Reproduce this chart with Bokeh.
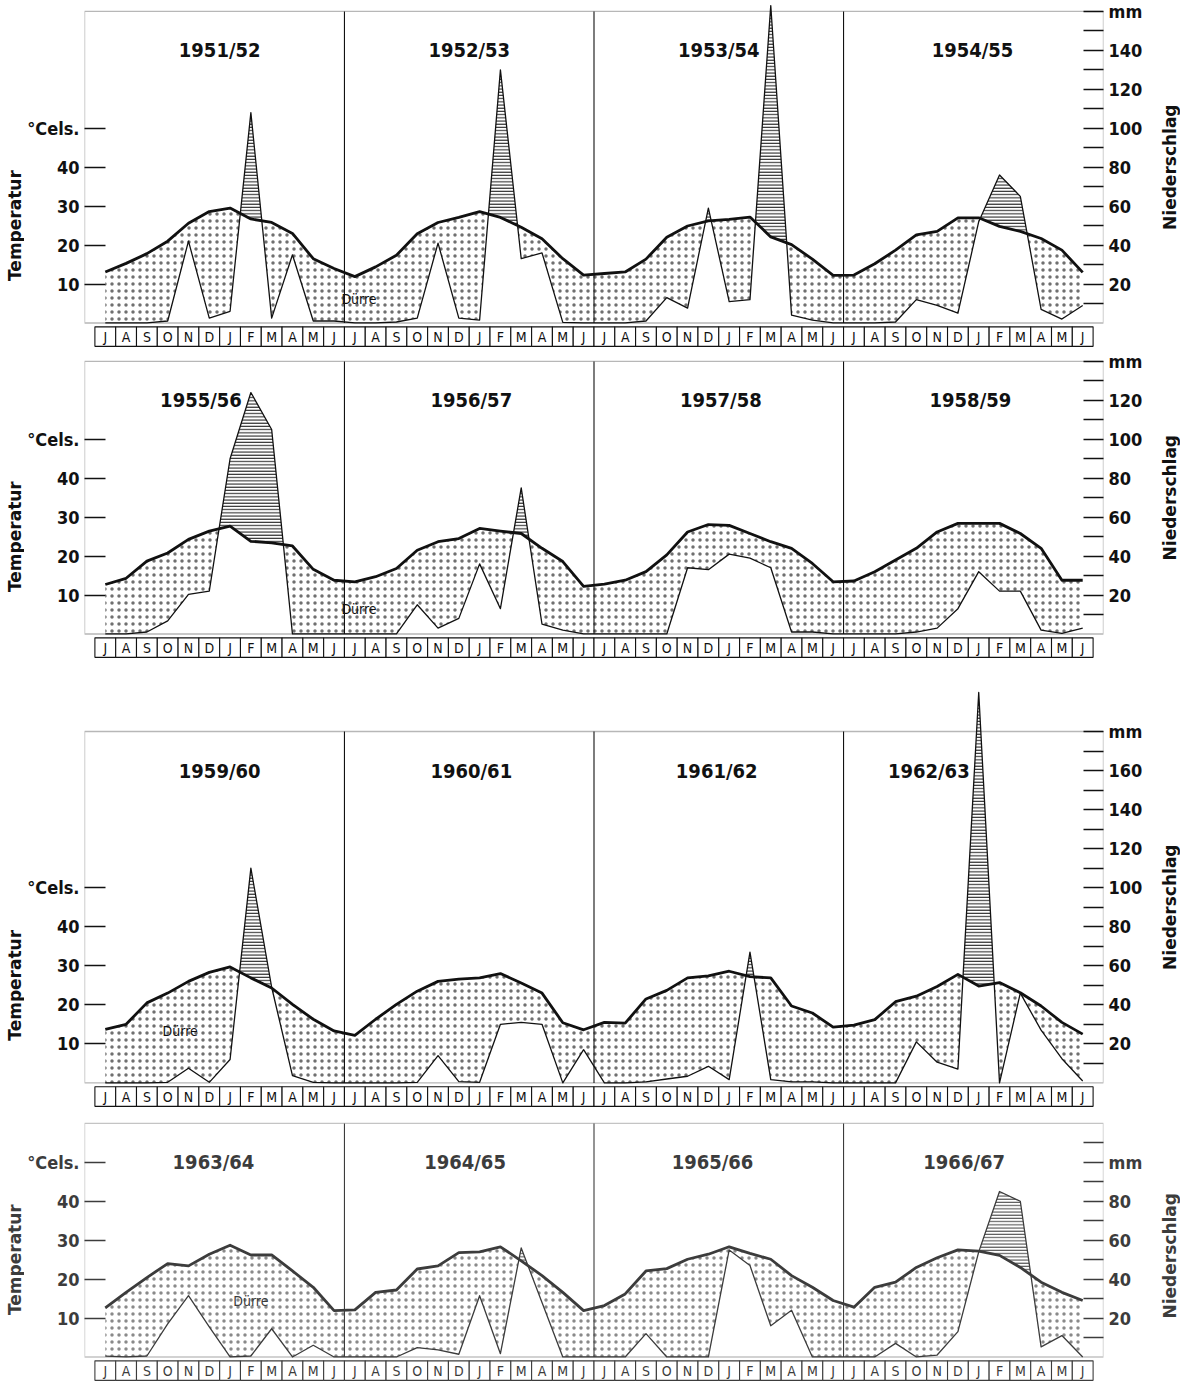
import math
import numpy as np
from bokeh.plotting import figure
from bokeh.models import Range1d, LinearAxis, FixedTicker, BoxAnnotation
from bokeh.layouts import column, row
from bokeh.embed import file_html
from bokeh.resources import INLINE
from bokeh.core.properties import value

# ---------------- data ----------------
MONTHS = ["J", "A", "S", "O", "N", "D", "J", "F", "M", "A", "M", "J"]

SEASONS_1 = ["1951/52", "1952/53", "1953/54", "1954/55"]
TEMP_1 = [13.1, 15.3, 17.8, 21.0, 25.6, 28.6, 29.5, 26.7, 25.8, 23.0, 16.5, 14.0,
          11.9, 14.4, 17.4, 22.9, 25.8, 27.1, 28.6, 27.1, 24.6, 21.6, 16.5, 12.3,
          12.7, 13.1, 16.4, 22.0, 24.9, 26.2, 26.6, 27.2, 22.1, 20.1, 16.4, 12.2,
          12.3, 15.2, 18.7, 22.6, 23.5, 27.0, 27.0, 24.8, 23.5, 21.7, 18.7, 13.0]
PREC_1 = [0, 0, 0, 1, 42, 2.5, 6, 108, 2.5, 35, 1, 1,
          0, 0, 0.5, 2.5, 41, 2.5, 1.5, 130, 33, 36, 0.3, 0,
          0, 0, 1, 13, 7.6, 59, 11, 12, 163, 4, 1.5, 0,
          0, 0, 0.5, 12, 9, 5, 52, 76, 65, 7, 2, 9]

SEASONS_2 = ["1955/56", "1956/57", "1957/58", "1958/59"]
TEMP_2 = [12.7, 14.3, 18.7, 20.8, 24.3, 26.4, 27.7, 23.8, 23.4, 22.6, 16.6, 13.8,
          13.4, 14.7, 16.8, 21.5, 23.7, 24.5, 27.1, 26.4, 25.8, 22.0, 18.6, 12.2,
          12.8, 13.8, 16.0, 20.3, 26.2, 28.1, 27.9, 25.8, 23.7, 22.0, 18.1, 13.4,
          13.6, 16.0, 19.0, 22.0, 26.2, 28.4, 28.4, 28.4, 25.8, 22.0, 13.8, 13.8]
PREC_2 = [0, 0, 1, 6.7, 20.3, 22, 90, 124, 105, 0, 0, 0,
          0, 0, 0, 15, 3, 8, 36, 13, 75, 5, 2, 0,
          0, 0, 0, 0, 34, 33, 41, 39, 34, 1, 1, 0,
          0, 0, 0, 1, 3, 13, 32, 22, 22, 2, 0.3, 3]

SEASONS_3 = ["1959/60", "1960/61", "1961/62", "1962/63"]
TEMP_3 = [13.7, 15.0, 20.5, 23.0, 26.0, 28.3, 29.7, 26.9, 24.3, 20.1, 16.3, 13.3,
          12.2, 16.3, 20.1, 23.5, 26.0, 26.6, 26.9, 28.0, 25.6, 23.0, 15.4, 13.6,
          15.5, 15.3, 21.5, 23.7, 26.9, 27.4, 28.6, 27.2, 26.9, 19.7, 17.9, 14.3,
          14.8, 16.2, 20.8, 22.2, 24.7, 27.8, 24.8, 25.7, 23.1, 19.7, 15.5, 12.5]
PREC_3 = [0, 0, 0, 0.3, 7.5, 0.3, 12, 110, 49, 3.7, 0.3, 0,
          0, 0, 0, 0.3, 14, 0.7, 0.3, 30, 31, 30, 0, 17,
          0, 0, 0.5, 2, 3.4, 8.5, 1.7, 67, 1.7, 0.5, 0.5, 0,
          0, 0, 0, 21, 10.6, 7.1, 200, 0, 46, 27, 12.4, 1]

SEASONS_4 = ["1963/64", "1964/65", "1965/66", "1966/67"]
TEMP_4 = [12.6, 16.6, 20.4, 24.0, 23.4, 26.4, 28.7, 26.2, 26.2, 22.1, 17.9, 11.9,
          12.1, 16.6, 17.2, 22.6, 23.4, 26.8, 27.0, 28.3, 24.7, 20.9, 16.6, 11.9,
          13.2, 16.2, 22.1, 22.7, 25.1, 26.4, 28.3, 26.6, 25.1, 20.9, 17.9, 14.5,
          12.8, 17.9, 19.2, 23.0, 25.5, 27.5, 27.2, 26.1, 23.0, 19.2, 16.6, 14.5]
PREC_4 = [0.4, 0, 0.5, 17, 31.5, 15.5, 0, 0.5, 14.5, 0, 6, 0,
          0, 0, 0, 4.8, 3.7, 1.4, 31.5, 1.7, 56, 28, 0, 0,
          0, 0, 12, 0, 0, 0, 55, 47, 16, 24, 0, 0,
          0, 0, 7, 0, 1, 13, 54, 85, 80, 5.2, 11, 0]

TEMP_TICKS = [10, 20, 30, 40, 50]
MM_TICKS_1 = list(range(10, 170, 10))
MM_TICKS_2 = list(range(10, 150, 10))
MM_TICKS_3 = list(range(10, 190, 10))
MM_TICKS_4 = list(range(10, 120, 10))

# ---------------- styling / layout ----------------
FONT = "'Liberation Sans Narrow', 'DejaVu Sans Condensed', Roboto, sans-serif"
TITLE_FONT = "'DejaVu Sans', sans-serif"
SCALE = 3.9          # px per degree C
YMIN = -6.3
FRAME_W = 1019
LEFT_W, BORDER_L, BORDER_R, RIGHT_W = 24, 60, 55, 22
PANELS = [
    dict(seasons=SEASONS_1, temp=TEMP_1, prec=PREC_1, mm=MM_TICKS_1, top=80, ymax=82.8,
         mm_label=160, label_x=[5.5, 17.5, 29.5, 41.7], duerre=(12.2, 6.2), gap=0,
         nied_y=40, ink="#111111"),
    dict(seasons=SEASONS_2, temp=TEMP_2, prec=PREC_2, mm=MM_TICKS_2, top=70, ymax=71,
         mm_label=140, label_x=[4.6, 17.6, 29.6, 41.6], duerre=(12.2, 6.5), gap=10,
         nied_y=35, ink="#111111"),
    dict(seasons=SEASONS_3, temp=TEMP_3, prec=PREC_3, mm=MM_TICKS_3, top=90, ymax=100.5,
         mm_label=180, label_x=[5.5, 17.6, 29.4, 39.6], duerre=(3.6, 13.3), gap=32,
         nied_y=45, ink="#111111"),
    dict(seasons=SEASONS_4, temp=TEMP_4, prec=PREC_4, mm=MM_TICKS_4, top=60, ymax=61,
         mm_label=100, label_x=[5.2, 17.3, 29.2, 41.3], duerre=(7.0, 14.5), gap=12,
         nied_y=26, ink="#3c3c3c"),
]


def split_at_crossings(t, p2):
    xs, ts, ps = [0.0], [t[0]], [p2[0]]
    for i in range(len(t) - 1):
        d0, d1 = t[i] - p2[i], t[i + 1] - p2[i + 1]
        if d0 * d1 < 0:
            f = d0 / (d0 - d1)
            v = t[i] + f * (t[i + 1] - t[i])
            xs.append(i + f); ts.append(v); ps.append(v)
        xs.append(i + 1.0); ts.append(t[i + 1]); ps.append(p2[i + 1])
    return np.array(xs), np.array(ts), np.array(ps)


def style_axis(ax, ink):
    ax.major_tick_out = 0
    ax.major_tick_line_color = ink
    ax.major_tick_line_width = 1.3
    ax.minor_tick_line_color = None
    ax.axis_line_color = None
    ax.major_label_standoff = 5
    ax.major_label_text_font = FONT
    ax.major_label_text_font_size = "18px"
    ax.major_label_text_font_style = "bold"
    ax.major_label_text_color = ink


def frame_height(cfg):
    return int(round((cfg["ymax"] - YMIN) * SCALE))


def make_panel(cfg):
    ink = cfg["ink"]
    n = len(cfg["temp"])
    x = np.arange(n)
    temp = np.array(cfg["temp"], dtype=float)
    prec_c = np.array(cfg["prec"], dtype=float) / 2.0   # 20 mm = 10 degC

    p = figure(frame_width=FRAME_W, frame_height=frame_height(cfg),
               x_range=Range1d(-1, n), y_range=Range1d(YMIN, cfg["ymax"]),
               x_axis_location=None, output_backend="svg", toolbar_location=None,
               min_border_left=BORDER_L, min_border_right=BORDER_R,
               min_border_top=cfg["gap"], min_border_bottom=0)
    p.grid.visible = False
    p.outline_line_color = None
    p.background_fill_color = "white"
    p.border_fill_color = "white"

    # left temperature axis
    ax = p.yaxis[0]
    ax.ticker = FixedTicker(ticks=TEMP_TICKS)
    ax.major_label_overrides = {50: "°Cels."}
    ax.major_tick_in = 21
    style_axis(ax, ink)

    # right precipitation axis
    p.extra_y_ranges = {"mm": Range1d(2 * YMIN, 2 * cfg["ymax"])}
    overrides = {}
    for t in cfg["mm"]:
        if t == cfg["mm_label"]:
            overrides[t] = "mm"
        elif t % 20 == 0 and t <= cfg["mm_label"] - 20:
            overrides[t] = str(t)
        else:
            overrides[t] = ""
    ticks = sorted(set(cfg["mm"]) | {cfg["mm_label"]})
    rax = LinearAxis(y_range_name="mm", ticker=FixedTicker(ticks=ticks),
                     major_label_overrides=overrides)
    rax.major_tick_in = 20
    style_axis(rax, ink)
    p.add_layout(rax, "right")

    # filled regions: drought (dots) and humid (horizontal hatching)
    xs, ts, ps = split_at_crossings(temp, prec_c)
    upper = np.maximum(ts, ps)
    p.varea(x=xs, y1=ps, y2=upper, fill_alpha=0, hatch_pattern="dot",
            hatch_scale=7, hatch_weight=0.6, hatch_color=ink, hatch_alpha=0.6)
    p.varea(x=xs, y1=ts, y2=upper, fill_alpha=0, hatch_pattern="horizontal_line",
            hatch_scale=3.2, hatch_weight=1.0, hatch_color=ink)

    # season dividers
    nyear = len(cfg["seasons"])
    bounds = [12 * k - 0.5 for k in range(1, nyear)]
    p.segment(x0=bounds, y0=[0] * len(bounds), x1=bounds, y1=[cfg["top"]] * len(bounds),
              line_color=ink, line_width=1.1)

    # curves
    p.line(x, prec_c, line_color=ink, line_width=1.3, line_join="round")
    p.line(x, temp, line_color=ink, line_width=2.8, line_join="round")

    # frame box
    p.add_layout(BoxAnnotation(left=-1, right=n, bottom=0, top=cfg["top"],
                               fill_alpha=0, line_color=ink, line_width=1.4,
                               level="overlay"))

    # month strip
    p.rect(x=x, y=-3.5, width=1, height=5.0, fill_color="white",
           line_color=ink, line_width=1.1)
    p.text(x=x, y=[-3.5] * n, text=MONTHS * nyear, text_align="center",
           text_baseline="middle", text_font=value(FONT), text_font_size="14px",
           text_color=ink)

    # season labels
    p.text(x=cfg["label_x"], y=[cfg["top"] - 10] * nyear, text=cfg["seasons"],
           text_align="center", text_baseline="middle", text_font=value(FONT),
           text_font_size="20px", text_font_style="bold", text_color=ink)

    # Duerre label
    dx, dy = cfg["duerre"]
    p.text(x=[dx], y=[dy], text=["Dürre"], text_align="center", text_baseline="middle",
           text_font=value(FONT), text_font_size="14px", text_color=ink)
    return p


def title_strip(cfg, y_range, width, text, y, xpos):
    f = figure(frame_width=width, frame_height=frame_height(cfg),
               x_range=Range1d(0, 1), y_range=y_range,
               x_axis_location=None, y_axis_location=None,
               output_backend="svg", toolbar_location=None,
               min_border_left=0, min_border_right=0,
               min_border_top=cfg["gap"], min_border_bottom=0)
    f.grid.visible = False
    f.outline_line_color = None
    f.background_fill_color = "white"
    f.border_fill_color = "white"
    f.text(x=[xpos], y=[y], text=[text], angle=math.pi / 2, text_align="center",
           text_baseline="middle", text_font=value(TITLE_FONT), text_font_size="17px",
           text_font_style="bold", text_color=cfg["ink"])
    return f


rows = []
for cfg in PANELS:
    main = make_panel(cfg)
    left = title_strip(cfg, main.y_range, LEFT_W, "Temperatur", 25, 0.62)
    right = title_strip(cfg, main.y_range, RIGHT_W, "Niederschlag", cfg["nied_y"], 0.5)
    rows.append(row(left, main, right, spacing=0))

layout = column(*rows, spacing=0)
open("out.html", "w").write(file_html(layout, INLINE))
